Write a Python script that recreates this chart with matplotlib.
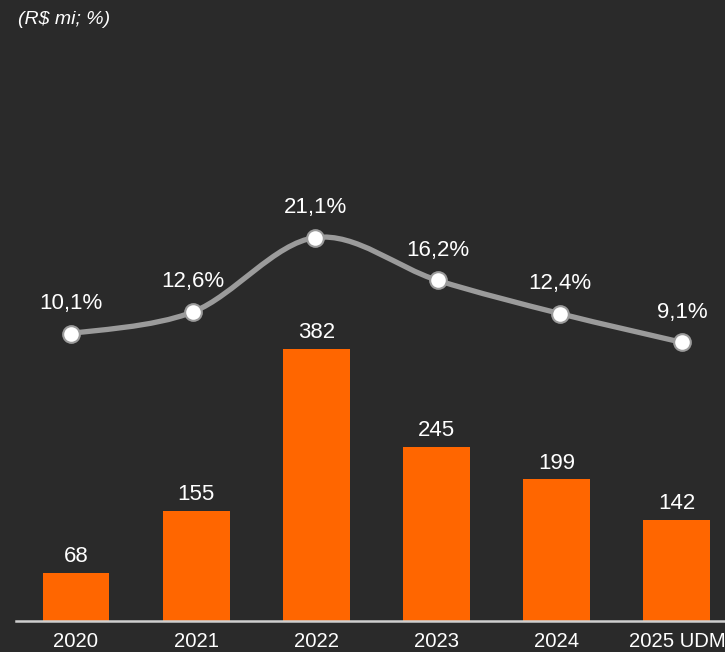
import matplotlib
matplotlib.use("Agg")
import matplotlib.pyplot as plt
from matplotlib.path import Path
from matplotlib.patches import PathPatch
import numpy as np

# data
categories = ["2020", "2021", "2022", "2023", "2024", "2025 UDM"]
values = [68, 155, 382, 245, 199, 142]
margin = [10.1, 12.6, 21.1, 16.2, 12.4, 9.1]
margin_labels = ["10,1%", "12,6%", "21,1%", "16,2%", "12,4%", "9,1%"]

BG = "#2a2a2a"
ORANGE = "#ff6600"
GRAY = "#9b9b9b"

plt.rcParams['font.family'] = ['Liberation Sans', 'DejaVu Sans']

fig = plt.figure(figsize=(7.25, 6.52), dpi=100, facecolor=BG)
rect = [16 / 725, 1 - 621 / 652, 709 / 725, 621 / 652]
ax = fig.add_axes(rect)
ax.set_facecolor(BG)

x = np.arange(len(categories))
ax.bar(x, values, width=0.557, color=ORANGE, zorder=2)
for xi, v in zip(x, values):
    ax.annotate(str(v), (xi, v), xytext=(0, 4), textcoords="offset points",
                ha="center", va="bottom", color="white", fontsize=16)

ax.set_xlim(-0.499, 5.40)
ax.set_ylim(0, 872)
ax.set_yticks([])
ax.set_xticks(x)
ax.set_xticklabels(categories, color="white", fontsize=14.6)
ax.tick_params(axis="x", length=0, pad=8)
for s in ["top", "right", "left"]:
    ax.spines[s].set_visible(False)
ax.spines["bottom"].set_color("#cfcfcf")
ax.spines["bottom"].set_linewidth(1.8)

# margin line on its own overlay axes (points are spread a bit wider than the bars)
ax2 = fig.add_axes(rect)
ax2.patch.set_alpha(0)
ax2.set_xlim(-0.450, 5.352)
ax2.set_ylim(-22.8, 48.3)
ax2.axis("off")

# smooth curve through points (Catmull-Rom -> cubic bezier)
pts = np.column_stack([x, margin]).astype(float)
verts = [tuple(pts[0])]
codes = [Path.MOVETO]
for i in range(len(pts) - 1):
    p0 = pts[i - 1] if i > 0 else pts[i]
    p1, p2 = pts[i], pts[i + 1]
    p3 = pts[i + 2] if i + 2 < len(pts) else pts[i + 1]
    c1 = p1 + (p2 - p0) / 6
    c2 = p2 - (p3 - p1) / 6
    verts += [tuple(c1), tuple(c2), tuple(p2)]
    codes += [Path.CURVE4] * 3
ax2.add_patch(PathPatch(Path(verts, codes), fill=False, edgecolor=GRAY,
                        linewidth=3.8, capstyle="round", zorder=3))
ax2.plot(x, margin, linestyle="none", marker="o", markersize=12,
         markerfacecolor="white", markeredgecolor=GRAY, markeredgewidth=1.5,
         zorder=4)
for xi, m, lab in zip(x, margin, margin_labels):
    ax2.annotate(lab, (xi, m), xytext=(0, 14), textcoords="offset points",
                 ha="center", va="bottom", color="white", fontsize=16)

fig.text(18 / 725, 1 - 20 / 652, "(R$ mi; %)", color="white", fontsize=14,
         style="italic", ha="left", va="center")

fig.savefig("out.png", dpi=100, facecolor=BG)
